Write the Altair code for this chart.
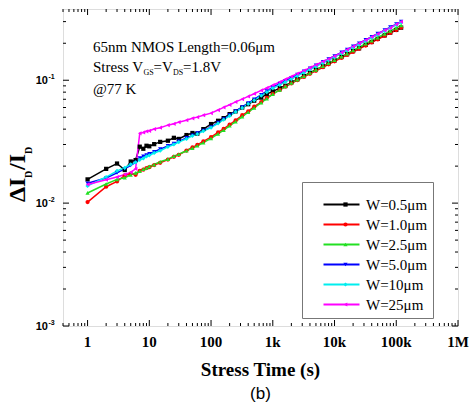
import altair as alt
import pandas as pd

# ---------------- data ----------------
times = [1, 2, 3, 4, 5, 6, 7, 8, 9, 10,
         12, 15, 20, 25, 30, 40, 50, 60, 75,
         100, 130, 160, 200, 250, 320, 400, 500, 650, 800,
         1000, 1300, 1600, 2000, 2500, 3200, 4000, 5000, 6500, 8000,
         10000, 13000, 16000, 20000, 25000, 32000, 40000, 50000, 65000, 80000,
         100000, 120000]

series_labels = ["W=0.5μm", "W=1.0μm", "W=2.5μm", "W=5.0μm", "W=10μm", "W=25μm"]
series_codes = ["s1", "s2", "s3", "s4", "s5", "s6"]
series_colors = ["#000000", "#ff0000", "#22e022", "#0000ff", "#00eeee", "#ff00ff"]
series_shapes = ["square", "circle", "triangle-up", "triangle-down", "diamond", "triangle-left"]

w05 = [0.0156, 0.0190, 0.0210, 0.0186, 0.0218, 0.0224, 0.0288, 0.0277, 0.0293, 0.0290,
       0.0302, 0.0315, 0.0322, 0.0340, 0.0333, 0.0358, 0.0372, 0.0368, 0.0400,
       0.0440, 0.0468, 0.0492, 0.0530, 0.0558, 0.0600, 0.0638, 0.0682, 0.0722, 0.0772,
       0.0812, 0.0862, 0.0902, 0.0962, 0.1018, 0.1082, 0.1148, 0.1218, 0.1298, 0.1372,
       0.1448, 0.1548, 0.1628, 0.1728, 0.1818, 0.1942, 0.2048, 0.2172, 0.2318, 0.2442,
       0.2568, 0.2680]
w10 = [0.0102, 0.0136, 0.0150, 0.0168, 0.0174, 0.0170, 0.0183, 0.0187, 0.0193, 0.0196,
       0.0204, 0.0213, 0.0226, 0.0238, 0.0247, 0.0268, 0.0284, 0.0298, 0.0318,
       0.0345, 0.0376, 0.0402, 0.0436, 0.0471, 0.0519, 0.0559, 0.0609, 0.0664, 0.0719,
       0.0776, 0.0834, 0.0886, 0.0941, 0.1001, 0.1064, 0.1129, 0.1194, 0.1276, 0.1347,
       0.1426, 0.1519, 0.1606, 0.1699, 0.1801, 0.1914, 0.2031, 0.2149, 0.2301, 0.2424,
       0.2561, 0.2682]
w25 = [0.0121, 0.0143, 0.0156, 0.0161, 0.0170, 0.0176, 0.0182, 0.0189, 0.0193, 0.0199,
       0.0206, 0.0217, 0.0228, 0.0241, 0.0250, 0.0267, 0.0280, 0.0293, 0.0311,
       0.0336, 0.0366, 0.0393, 0.0426, 0.0461, 0.0506, 0.0549, 0.0596, 0.0656, 0.0709,
       0.0771, 0.0836, 0.0891, 0.0951, 0.1011, 0.1079, 0.1146, 0.1216, 0.1301, 0.1376,
       0.1456, 0.1559, 0.1649, 0.1751, 0.1856, 0.1981, 0.2101, 0.2226, 0.2386, 0.2521,
       0.2669, 0.2800]
w50 = [0.0145, 0.0160, 0.0176, 0.0190, 0.0203, 0.0214, 0.0232, 0.0240, 0.0246, 0.0252,
       0.0262, 0.0275, 0.0292, 0.0305, 0.0318, 0.0340, 0.0356, 0.0372, 0.0390,
       0.0415, 0.0452, 0.0484, 0.0520, 0.0560, 0.0606, 0.0652, 0.0700, 0.0762, 0.0815,
       0.0878, 0.0938, 0.0990, 0.1048, 0.1110, 0.1180, 0.1250, 0.1322, 0.1412, 0.1488,
       0.1575, 0.1688, 0.1780, 0.1888, 0.2000, 0.2130, 0.2258, 0.2392, 0.2560, 0.2702,
       0.2862, 0.3000]
w100 = [0.0138, 0.0163, 0.0183, 0.0194, 0.0207, 0.0215, 0.0225, 0.0231, 0.0240, 0.0245,
        0.0256, 0.0267, 0.0287, 0.0300, 0.0314, 0.0333, 0.0353, 0.0365, 0.0386,
        0.0411, 0.0446, 0.0478, 0.0512, 0.0552, 0.0595, 0.0641, 0.0686, 0.0749, 0.0799,
        0.0861, 0.0918, 0.0969, 0.1023, 0.1085, 0.1152, 0.1223, 0.1291, 0.1383, 0.1455,
        0.1541, 0.1651, 0.1744, 0.1848, 0.1961, 0.2089, 0.2219, 0.2349, 0.2519, 0.2658,
        0.2819, 0.2961]
w250 = [0.0142, 0.0155, 0.0163, 0.0171, 0.0178, 0.0190, 0.0370, 0.0376, 0.0384, 0.0388,
        0.0401, 0.0411, 0.0431, 0.0442, 0.0456, 0.0473, 0.0490, 0.0501, 0.0519,
        0.0540, 0.0572, 0.0602, 0.0631, 0.0666, 0.0702, 0.0739, 0.0777, 0.0827, 0.0865,
        0.0911, 0.0967, 0.1018, 0.1072, 0.1132, 0.1198, 0.1265, 0.1331, 0.1420, 0.1488,
        0.1571, 0.1679, 0.1775, 0.1879, 0.1992, 0.2121, 0.2249, 0.2381, 0.2548, 0.2664,
        0.2852, 0.2990]
all_series = [w05, w10, w25, w50, w100, w250]

x_major = [1, 10, 100, 1000, 10000, 100000, 1000000]
x_tick_text = ["1", "10", "100", "1k", "10k", "100k", "1M"]
x_minor = [m * 10 ** d for d in range(-1, 6) for m in range(2, 10) if 0.4 <= m * 10 ** d <= 1e6]
y_major = [0.001, 0.01, 0.1]
y_exponents = ["-3", "-2", "-1"]
y_minor = [m * 10 ** d for d in (-3, -2, -1) for m in range(2, 10) if m * 10 ** d <= 0.38]

rows = []
for lab, code, vals in zip(series_labels, series_codes, all_series):
    for t, v in zip(times, vals):
        rows.append({"t": t, "v": v, "W": lab, "W2": code})
df = pd.DataFrame(rows)

# ---------------- layout ----------------
W, H = 395, 317
xs = alt.Scale(type="log", domain=[0.4, 1e6], nice=False)
ys = alt.Scale(type="log", domain=[0.001, 0.38], nice=False)
SERIF = "Liberation Serif"
SANS = "Liberation Sans"

line_legend = alt.Legend(
    title=" ", titleFontSize=10, titlePadding=0,
    orient="none", legendX=239, legendY=173, padding=5,
    strokeColor="#777777", fillColor="white",
    labelFont=SERIF, labelFontSize=15, labelColor="black", labelLimit=300,
    symbolType="M-3,0H3", symbolSize=144, symbolStrokeWidth=2,
    symbolOffset=27, labelOffset=17, rowPadding=4,
)
pt_legend = alt.Legend(
    title=" ", titleFontSize=10, titlePadding=0,
    orient="none", legendX=239, legendY=173, padding=5,
    labelFont=SERIF, labelFontSize=15, labelExpr="' '", labelLimit=300,
    symbolSize=18, symbolStrokeWidth=0, symbolOffset=31, labelOffset=20,
    rowPadding=4,
)

lines = alt.Chart(df).mark_line(strokeWidth=1.5).encode(
    x=alt.X("t:Q", scale=xs, axis=None),
    y=alt.Y("v:Q", scale=ys, axis=None),
    color=alt.Color("W:N", scale=alt.Scale(domain=series_labels, range=series_colors), legend=line_legend),
)
points = alt.Chart(df).mark_point(filled=True, size=18, opacity=1).encode(
    x=alt.X("t:Q", scale=xs, axis=None),
    y=alt.Y("v:Q", scale=ys, axis=None),
    color=alt.Color("W2:N", scale=alt.Scale(domain=series_codes, range=series_colors), legend=pt_legend),
    shape=alt.Shape("W2:N", scale=alt.Scale(domain=series_codes, range=series_shapes), legend=pt_legend),
)

xmaj = pd.DataFrame({"t": x_major, "lab": x_tick_text})
xmin = pd.DataFrame({"t": x_minor})
ymaj = pd.DataFrame({"v": y_major, "base": ["10"] * 3, "exp": y_exponents})
ymin = pd.DataFrame({"v": y_minor})


def xticks(d, y0, y1):
    return alt.Chart(d).mark_rule(color="black", strokeWidth=1).encode(
        x=alt.X("t:Q", scale=xs, axis=None), y=alt.value(y0), y2=alt.value(y1))


def yticks(d, x0, x1):
    return alt.Chart(d).mark_rule(color="black", strokeWidth=1).encode(
        y=alt.Y("v:Q", scale=ys, axis=None), x=alt.value(x0), x2=alt.value(x1))


ticks = [
    xticks(xmaj, H, H - 6), xticks(xmin, H, H - 3),
    xticks(xmaj, 0, 6), xticks(xmin, 0, 3),
    yticks(ymaj, 0, 6), yticks(ymin, 0, 3),
    yticks(ymaj, W, W - 6), yticks(ymin, W, W - 3),
]

xlabels = alt.Chart(xmaj).mark_text(
    align="center", baseline="middle", font=SERIF, fontWeight="bold", fontSize=15, color="black"
).encode(x=alt.X("t:Q", scale=xs, axis=None), y=alt.value(H + 16), text="lab:N")

ylab_base = alt.Chart(ymaj).mark_text(
    align="right", baseline="alphabetic", font=SANS, fontWeight="bold", fontSize=11, dy=4, color="black"
).encode(y=alt.Y("v:Q", scale=ys, axis=None), x=alt.value(-15), text="base:N")
ylab_exp = alt.Chart(ymaj).mark_text(
    align="left", baseline="alphabetic", font=SANS, fontWeight="bold", fontSize=7, dy=-1, color="black"
).encode(y=alt.Y("v:Q", scale=ys, axis=None), x=alt.value(-14.5), text="exp:N")

one = pd.DataFrame({"k": [0]})


def label(text, x, y, size, font=SERIF, weight="normal", align="left", baseline="alphabetic", angle=0):
    return alt.Chart(one).mark_text(
        text=text, fontSize=size, font=font, fontWeight=weight, align=align,
        baseline=baseline, angle=angle, color="black"
    ).encode(x=alt.value(x), y=alt.value(y))


texts = [
    label("65nm NMOS Length=0.06μm", 30, 43, 15),
    label("Stress V", 30, 62.5, 15),
    label("GS", 80.4, 66, 8),
    label("=V", 90.6, 62.5, 15),
    label("DS", 109.9, 66, 8),
    label("=1.8V", 120.1, 62.5, 15),
    label("@77 K", 30, 85, 15),
    # y-axis title  ΔI_D / I_D (rotated)
    label("ΔI", -38, 193, 24, weight="bold", angle=270),
    label("D", -31, 169, 10, weight="bold", angle=270),
    label("/I", -38, 161, 24, weight="bold", angle=270),
    label("D", -31, 145, 10, weight="bold", angle=270),
    # x-axis title and panel tag
    label("Stress Time (s)", W / 2, H + 44, 19, weight="bold", align="center", baseline="middle"),
    label("(b)", W / 2, H + 68, 17, font=SANS, align="center", baseline="middle"),
]

chart = alt.layer(
    lines, points, *ticks, xlabels, ylab_base, ylab_exp, *texts
).resolve_scale(
    color="independent", shape="independent"
).resolve_legend(
    color="independent", shape="independent"
).properties(
    width=W, height=H,
    autosize=alt.AutoSizeParams(type="none"),
    padding={"left": 63, "top": 9, "right": 13, "bottom": 78},
).configure_view(
    stroke="black", strokeWidth=1
).configure(background="white")

chart.save("out.html", embed_options={"renderer": "svg", "actions": False})
